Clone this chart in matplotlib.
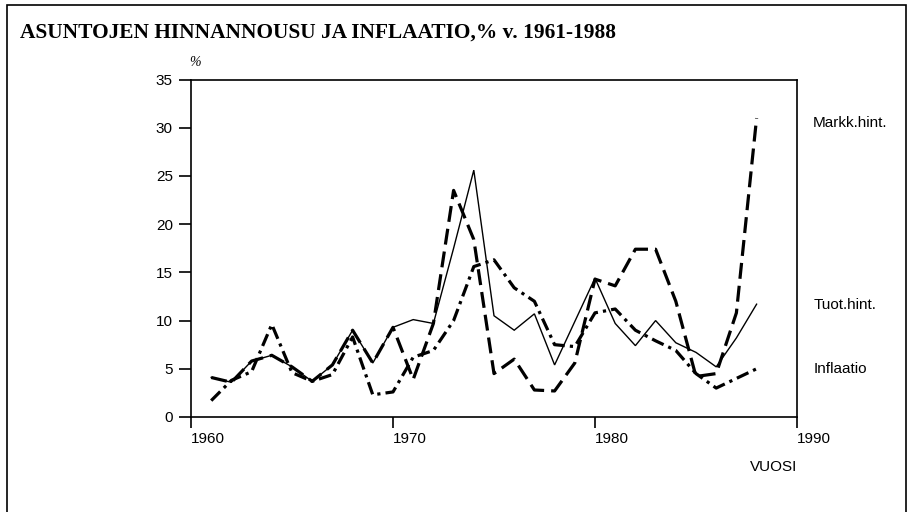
import matplotlib
matplotlib.use("Agg")
import matplotlib.pyplot as plt
from matplotlib.patches import Rectangle

years = list(range(1961, 1989))
markk_hint = [4.1, 3.6, 5.8, 6.4, 5.2, 3.7, 5.4, 9.0, 5.6, 9.3,
              3.9, 9.7, 23.5, 18.4, 4.5, 6.0, 2.8, 2.7, 5.6, 14.3,
              13.6, 17.4, 17.4, 12.0, 4.2, 4.5, 10.8, 31.0]
tuot_hint = [4.1, 3.6, 5.8, 6.4, 5.2, 3.7, 5.4, 9.0, 5.6, 9.3,
             10.1, 9.7, 17.5, 25.6, 10.5, 9.0, 10.7, 5.4, 9.9, 14.4,
             9.7, 7.4, 10.0, 7.7, 6.7, 5.2, 8.2, 11.7]
inflaatio = [1.7, 3.8, 4.7, 9.6, 4.6, 3.7, 4.4, 8.3, 2.3, 2.6,
             6.2, 6.9, 10.0, 15.6, 16.3, 13.4, 12.0, 7.5, 7.3, 10.8,
             11.2, 9.0, 7.9, 6.9, 4.5, 3.0, 4.0, 5.0]
series_labels = ["Markk.hint.", "Tuot.hint.", "Inflaatio"]
x_ticks = [1960, 1970, 1980, 1990]
y_ticks = [0, 5, 10, 15, 20, 25, 30, 35]
title = "ASUNTOJEN HINNANNOUSU JA INFLAATIO,% v. 1961-1988"

W, H = 914, 512
fig = plt.figure(figsize=(W / 100, H / 100), dpi=100)
fig.patch.set_facecolor("white")

# outer frame
fig.add_artist(Rectangle((7 / W, -0.01), (906 - 7) / W, (H - 5) / H + 0.01,
                         transform=fig.transFigure, fill=False,
                         edgecolor="black", linewidth=1.2))

fig.text(20 / W, 1 - 33 / H, title, fontsize=15.4, fontweight="bold",
         family="Liberation Serif", va="center", ha="left")

ax = fig.add_axes([191 / W, (H - 417) / H, (797 - 191) / W, (417 - 79.5) / H])
sans = "Liberation Sans"

ax.plot(years, tuot_hint, color="black", lw=1.0, solid_joinstyle="miter")
ax.plot(years, markk_hint, color="black", lw=2.3, linestyle=(0, (5.0, 2.2)))
ax.plot(years, inflaatio, color="black", lw=2.3,
        linestyle=(0, (4.0, 1.6, 1.0, 1.6)))

ax.set_xlim(1960, 1990)
ax.set_ylim(0, 35)
ax.set_xticks(x_ticks)
ax.set_yticks(y_ticks)
ax.set_xticklabels([str(t) for t in x_ticks], ha="left", family=sans, fontsize=11)
ax.set_yticklabels([str(t) for t in y_ticks], family=sans, fontsize=11)
ax.tick_params(axis="x", direction="out", length=8, width=1.2, pad=3)
ax.tick_params(axis="y", direction="out", length=9, width=1.2, pad=4)
for s in ax.spines.values():
    s.set_linewidth(1.2)

ax.text(-0.003, 1.03, "%", transform=ax.transAxes, fontsize=10,
        style="italic", family="Liberation Serif", ha="left", va="bottom")

ax.text(1990.0, -5.2, "VUOSI", family=sans, fontsize=11, ha="right", va="center")

label_y = [30.5, 11.6, 5.0]
for lab, yv in zip(series_labels, label_y):
    ax.text(1990.8, yv, lab, family=sans, fontsize=11, ha="left", va="center",
            clip_on=False)

fig.savefig("out.png", dpi=100, facecolor="white")
